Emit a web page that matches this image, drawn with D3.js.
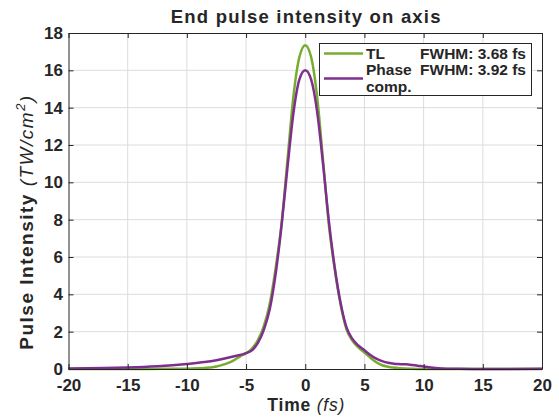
<!DOCTYPE html>
<html>
<head>
<meta charset="utf-8">
<script src="https://cdn.jsdelivr.net/npm/d3@7"></script>
<style>
  body { margin: 0; background: #fff; }
  text { font-family: "Liberation Sans", Arial, sans-serif; fill: #262626; }
</style>
</head>
<body>
<script>
// time samples (fs) and intensities (TW/cm^2)
const timeTL = [-20, -15, -12, -10, -9, -8, -7.5, -7, -6.5, -6, -5.5, -5, -4.5, -4, -3.5, -3, -2.5, -2, -1.5, -1, -0.5, 0,
                0.5, 1, 1.5, 2, 2.5, 3, 3.5, 4, 4.5, 5, 5.5, 6, 6.5, 7, 8, 9, 10, 15, 20];
const intensTL = [0, 0, 0.01, 0.02, 0.04, 0.08, 0.13, 0.22, 0.33, 0.48, 0.68, 0.85, 1.1, 1.55, 2.3, 3.5, 5.4, 7.8, 11.2, 14.6, 16.7, 17.35,
                  16.7, 14.6, 11.2, 7.7, 5.3, 3.4, 2.1, 1.5, 1.15, 0.88, 0.6, 0.36, 0.2, 0.12, 0.04, 0.01, 0, 0, 0];

const timePC = [-20, -17, -15, -12.5, -10, -8.5, -7.5, -6, -5, -4.5, -4, -3.5, -3, -2.5, -2, -1.5, -1, -0.5, 0,
                0.5, 1, 1.5, 2, 2.5, 3, 3.5, 4, 4.5, 5, 5.5, 6, 6.5, 7, 7.5, 8, 8.5, 9, 9.5, 10, 11, 12, 13, 15, 20];
const intensPC = [0.03, 0.05, 0.08, 0.15, 0.27, 0.37, 0.47, 0.68, 0.85, 1.0, 1.4, 2.1, 3.2, 5.1, 7.7, 10.8, 13.7, 15.5, 16.0,
                  15.5, 13.8, 11.0, 7.9, 5.4, 3.5, 2.2, 1.6, 1.25, 1.0, 0.75, 0.55, 0.42, 0.33, 0.28, 0.26, 0.25, 0.22, 0.18, 0.13, 0.06, 0.02, 0.01, 0, 0.01];

const seriesNames = ["TL", "Phase\ncomp."];
const fwhmLabels = ["FWHM: 3.68 fs", "FWHM: 3.92 fs"];
const colors = ["#77AC30", "#7E2F8E"];
const xTicks = [-20, -15, -10, -5, 0, 5, 10, 15, 20];
const yTicks = [0, 2, 4, 6, 8, 10, 12, 14, 16, 18];

const W = 559, H = 418;
const margin = { top: 33, right: 17, bottom: 49, left: 68.5 },
      width = W - margin.left - margin.right,
      height = H - margin.top - margin.bottom;

const svg = d3.select("body").append("svg")
    .attr("width", W)
    .attr("height", H);

const g = svg.append("g")
    .attr("transform", `translate(${margin.left}, ${margin.top})`);

const x = d3.scaleLinear().domain([-20, 20]).range([0, width]);
const y = d3.scaleLinear().domain([0, 18]).range([height, 0]);

// grid
g.append("g").selectAll("line").data(xTicks.slice(1, -1)).enter().append("line")
    .attr("x1", d => x(d)).attr("x2", d => x(d))
    .attr("y1", 0).attr("y2", height)
    .attr("stroke", "#dcdcdc").attr("stroke-width", 1);
g.append("g").selectAll("line").data(yTicks.slice(1, -1)).enter().append("line")
    .attr("y1", d => y(d)).attr("y2", d => y(d))
    .attr("x1", 0).attr("x2", width)
    .attr("stroke", "#dcdcdc").attr("stroke-width", 1);

// curves
const line = d3.line().curve(d3.curveMonotoneX);
const data = [
    d3.zip(timeTL, intensTL),
    d3.zip(timePC, intensPC)
];
g.append("g").selectAll("path").data(data).enter().append("path")
    .attr("d", d => line(d.map(p => [x(p[0]), y(p[1])])))
    .attr("fill", "none")
    .attr("stroke", (d, i) => colors[i])
    .attr("stroke-width", 2.5);

// axes, MATLAB style: ticks inside, box on
const tickLen = 5;
const fmt = d => String(d);   // plain hyphen minus like the original
const xAxis = g.append("g").attr("transform", `translate(0, ${height})`)
    .call(d3.axisBottom(x).tickValues(xTicks).tickFormat(fmt).tickSizeInner(-tickLen).tickSizeOuter(0).tickPadding(10));
const yAxis = g.append("g")
    .call(d3.axisLeft(y).tickValues(yTicks).tickFormat(fmt).tickSizeInner(-tickLen).tickSizeOuter(0).tickPadding(5.5));
g.append("g")
    .call(d3.axisTop(x).tickValues(xTicks).tickSizeInner(-tickLen).tickSizeOuter(0).tickFormat(""));
g.append("g").attr("transform", `translate(${width}, 0)`)
    .call(d3.axisRight(y).tickValues(yTicks).tickSizeInner(-tickLen).tickSizeOuter(0).tickFormat(""));

g.selectAll(".domain").attr("stroke", "#262626").attr("stroke-width", 1);
g.selectAll(".tick line").attr("stroke", "#262626");
g.selectAll(".tick text")
    .style("font-family", "Liberation Sans, Arial, sans-serif")
    .style("font-size", "17px")
    .style("font-weight", "bold")
    .attr("fill", "#262626");

// title
svg.append("text")
    .attr("x", margin.left + width / 2 + 1)
    .attr("y", 23)
    .attr("text-anchor", "middle")
    .style("font-size", "18.5px")
    .style("font-weight", "bold")
    .style("letter-spacing", "1.2px")
    .text("End pulse intensity on axis");

// x label
const xl = svg.append("text")
    .attr("x", margin.left + width / 2 + 1)
    .attr("y", 411)
    .attr("text-anchor", "middle")
    .style("font-size", "17.5px")
    .style("letter-spacing", "0.8px");
xl.append("tspan").style("font-weight", "bold").text("Time ");
xl.append("tspan").style("font-style", "italic").text("(fs)");

// y label
const yl = svg.append("text")
    .attr("transform", `translate(33, 222) rotate(-90)`)
    .attr("text-anchor", "middle")
    .style("font-size", "19px")
    .style("letter-spacing", "1.5px");
yl.append("tspan").style("font-weight", "bold").text("Pulse Intensity ");
yl.append("tspan").style("font-style", "italic").text("(TW/cm");
yl.append("tspan").style("font-style", "italic").style("font-size", "13px").attr("dy", -8).text("2");
yl.append("tspan").style("font-style", "italic").attr("dy", 8).text(")");

// legend
const lg = svg.append("g");
lg.append("rect")
    .attr("x", 319.5).attr("y", 43.5)
    .attr("width", 212).attr("height", 52)
    .attr("fill", "#fff").attr("stroke", "#262626").attr("stroke-width", 1);
const lineY = [53.5, 78.5];
const textY = [58.5, 75];
seriesNames.forEach((name, i) => {
    lg.append("line")
        .attr("x1", 324).attr("x2", 363)
        .attr("y1", lineY[i]).attr("y2", lineY[i])
        .attr("stroke", colors[i]).attr("stroke-width", 2.5);
    name.split("\n").forEach((part, j) => {
        lg.append("text")
            .attr("x", 366).attr("y", textY[i] + j * 16.5)
            .style("font-size", "15.5px").style("font-weight", "bold")
            .text(part);
    });
    lg.append("text")
        .attr("x", 526).attr("y", textY[i])
        .attr("text-anchor", "end")
        .style("font-size", "15.5px").style("font-weight", "bold")
        .text(fwhmLabels[i]);
});
</script>
</body>
</html>
